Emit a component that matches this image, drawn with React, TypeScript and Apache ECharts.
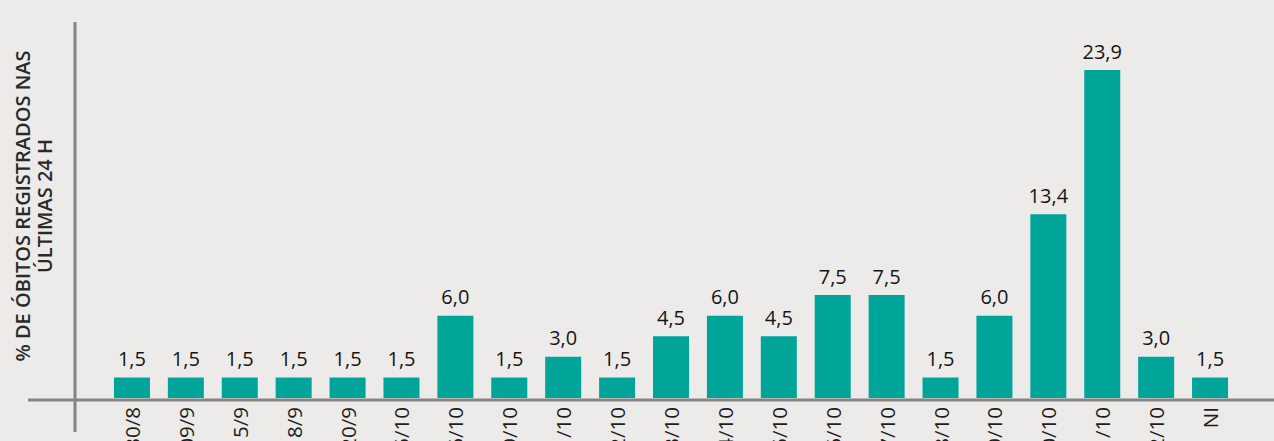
import React, { useEffect, useRef } from "react";
import * as echarts from "echarts";

const categories = [
  "30/8", "09/9", "15/9", "18/9", "20/9", "05/10", "06/10", "09/10", "11/10", "12/10",
  "13/10", "14/10", "15/10", "16/10", "17/10", "18/10", "19/10", "20/10", "21/10", "22/10", "NI",
];
const values = [
  1.5, 1.5, 1.5, 1.5, 1.5, 1.5, 6.0, 1.5, 3.0, 1.5,
  4.5, 6.0, 4.5, 7.5, 7.5, 1.5, 6.0, 13.4, 23.9, 3.0, 1.5,
];
const yTitle = "% DE ÓBITOS REGISTRADOS NAS\nÚLTIMAS 24 H";

export default function App() {
  const ref = useRef<HTMLDivElement>(null);
  useEffect(() => {
    if (!ref.current) return;
    const chart = echarts.init(ref.current, null, { renderer: "svg" });
    chart.setOption({
      animation: false,
      backgroundColor: "#ecebe9",
      grid: { left: 105, right: 37, top: 55, bottom: 43, outerBoundsMode: "none", containLabel: false },
      xAxis: {
        type: "category",
        data: categories,
        axisLine: { show: false },
        axisTick: { show: false },
        axisLabel: {
          rotate: 90,
          margin: 9,
          fontSize: 20.5,
          fontFamily: "Open Sans",
          color: "#1e1e1e",
        },
      },
      yAxis: {
        type: "value",
        min: 0,
        max: 25,
        show: false,
      },
      series: [
        {
          type: "bar",
          data: values,
          barWidth: 36,
          itemStyle: { color: "#00a599" },
          label: {
            show: true,
            position: "top",
            distance: 9,
            fontSize: 20,
            fontFamily: "Open Sans",
            color: "#151515",
            formatter: (p: any) => Number(p.value).toFixed(1).replace(".", ","),
          },
        },
      ],
      graphic: [
        {
          type: "line",
          shape: { x1: 75, y1: 22, x2: 75, y2: 432 },
          style: { stroke: "#858585", lineWidth: 3 },
        },
        {
          type: "line",
          shape: { x1: 28, y1: 400, x2: 1274, y2: 400 },
          style: { stroke: "#858585", lineWidth: 3 },
        },
        {
          type: "text",
          x: 33,
          y: 206,
          rotation: Math.PI / 2,
          style: {
            text: yTitle,
            align: "center",
            verticalAlign: "middle",
            fontSize: 20,
            lineHeight: 22,
            fontWeight: 600,
            fontFamily: "Open Sans",
            fill: "#2a2a2a",
          },
        },
      ],
    });
    return () => chart.dispose();
  }, []);
  return (
    <div
      ref={ref}
      style={{ position: "absolute", left: 0, top: 0, width: 1274, height: 441 }}
    />
  );
}
